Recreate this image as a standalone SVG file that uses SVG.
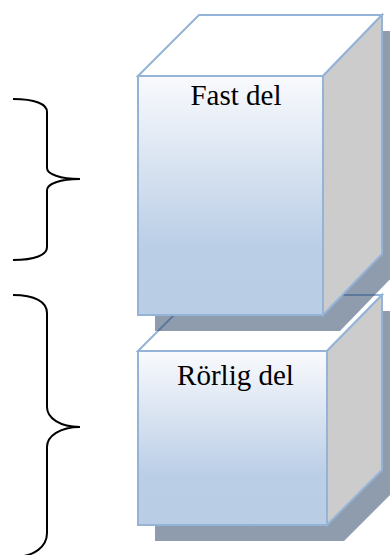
<svg xmlns="http://www.w3.org/2000/svg" width="390" height="555" viewBox="0 0 390 555">
  <style>
    .edge { stroke: #95b3d7; stroke-width: 2; stroke-linejoin: miter; }
    .top { fill: #ffffff; }
    .side { fill: #cccccc; }
    .front { fill: url(#frontGrad); }
    .shadow { fill: rgb(40,65,100); fill-opacity: 0.52; stroke: none; }
    .label { font-family: "Liberation Serif", "Times New Roman", serif; font-size: 29px; fill: #000000; text-anchor: middle; }
    .brace { fill: none; stroke: #000000; stroke-width: 2; stroke-linecap: butt; }
  </style>
  <defs>
    <linearGradient id="frontGrad" x1="0" y1="0" x2="0" y2="1">
      <stop offset="0" stop-color="#f9fafd"/>
      <stop offset="0.72" stop-color="#bacee6"/>
      <stop offset="1" stop-color="#b9cde5"/>
    </linearGradient>
  </defs>

  <g id="node-rorlig-del">
    <polygon class="shadow" points="155,367 211,311 399,311 399,486 344,541 155,541"/>
    <polygon class="top edge" points="138,351 194,295 382,295 327,351"/>
    <polygon class="side edge" points="327,351 382,295 382,470 327,525"/>
    <rect class="front edge" x="138" y="351" width="189" height="174"/>
    <text class="label" x="235.5" y="385">Rörlig del</text>
  </g>

  <g id="node-fast-del">
    <polygon class="shadow" points="155,92 216,31 399,31 399,270 340,331 155,331"/>
    <polygon class="top edge" points="138,76 199,15 382,15 323,76"/>
    <polygon class="side edge" points="323,76 382,15 382,254 323,315"/>
    <rect class="front edge" x="138" y="76" width="185" height="239"/>
    <text class="label" x="236" y="105">Fast del</text>
  </g>

  <g id="connectors">
    <path class="brace" d="M13,99 C35,99 47,104 47,112 L47,168 C47,174 60,179 80,179 C60,179 47,184 47,190 L47,247 C47,255 35,260 13,260"/>
    <path class="brace" d="M13,295 C35,295 47,302 47,313 L47,407 C47,418 60,427 80,427 C60,427 47,436 47,447 L47,533 C47,546 35,557 13,557"/>
  </g>
</svg>
